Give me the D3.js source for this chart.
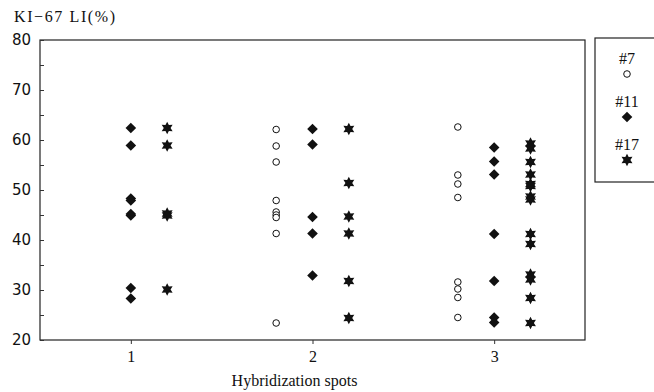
<!DOCTYPE html>
<html>
<head>
<meta charset="utf-8">
<script src="https://cdn.jsdelivr.net/npm/d3@7"></script>
<style>
  body { margin: 0; background: #fff; }
  svg { display: block; }
</style>
</head>
<body>
<div id="chart"></div>
<script>
// KI-67 labelling index per hybridization spot, three clones

const spots = [1, 2, 3];
const seriesNames = ["#7", "#11", "#17"];
const yTicks = [20, 30, 40, 50, 60, 70, 80];

// values per spot (index 0 = spot 1 ...)
const clone7 = [
    [],
    [62.1, 58.8, 55.6, 47.9, 45.6, 45.0, 44.5, 41.3, 23.4],
    [62.6, 53.0, 51.2, 48.5, 31.6, 30.2, 28.5, 24.5]
];
const clone11 = [
    [62.4, 58.9, 48.3, 47.9, 45.2, 44.9, 30.4, 28.3],
    [62.2, 59.1, 44.6, 41.3, 32.9],
    [58.5, 55.7, 53.1, 41.2, 31.8, 24.5, 23.5]
];
const clone17 = [
    [62.4, 58.9, 45.3, 44.9, 30.1],
    [62.2, 51.4, 44.7, 41.3, 31.8, 24.4],
    [59.3, 58.3, 55.6, 53.1, 51.2, 50.8, 48.7, 48.1, 41.2, 39.2, 33.1, 32.1, 28.4, 23.4]
];

const W = 654, H = 392;
const margin = { top: 40, right: 69, bottom: 52, left: 40 };
const width = W - margin.left - margin.right;
const height = H - margin.top - margin.bottom;

const serif = "'Liberation Serif', 'Times New Roman', serif";
const sans = "'DejaVu Sans', Verdana, sans-serif";

const svg = d3.select("#chart")
    .append("svg")
    .attr("width", W)
    .attr("height", H);

const g = svg.append("g")
    .attr("transform", `translate(${margin.left},${margin.top})`);

const x = d3.scaleLinear().domain([0.5, 3.5]).range([0, width]);
const y = d3.scaleLinear().domain([20, 80]).range([height, 0]);

// horizontal offset of each clone within a spot
const offset = { "#7": -0.2, "#11": 0, "#17": 0.2 };

// 6-pointed star and square diamond paths
function starPath(ro, ri) {
    const pts = d3.range(12).map(i => {
        const r = i % 2 === 0 ? ro : ri;
        const a = -Math.PI / 2 + i * Math.PI / 6;
        return [r * Math.cos(a), r * Math.sin(a)];
    });
    return "M" + pts.map(p => p.join(",")).join("L") + "Z";
}
const diamondPath = "M0,-5.3L5.3,0L0,5.3L-5.3,0Z";

// frame
g.append("rect")
    .attr("x", 0).attr("y", 0)
    .attr("width", width).attr("height", height)
    .attr("fill", "none")
    .attr("stroke", "#222")
    .attr("stroke-width", 1.2);

// y axis: ticks inside, every 5
const yAxis = g.append("g")
    .call(d3.axisRight(y).tickValues(d3.range(20, 81, 5)).tickSize(4).tickFormat(""));
yAxis.select(".domain").remove();
yAxis.selectAll("line").attr("stroke", "#333");

g.selectAll("text.ylab")
    .data(yTicks)
    .enter()
    .append("text")
    .attr("class", "ylab")
    .attr("x", -9)
    .attr("y", d => y(d))
    .attr("dy", "0.36em")
    .attr("text-anchor", "end")
    .style("font-family", sans)
    .style("font-size", "15px")
    .attr("fill", "#111")
    .text(d => d);

// x axis
const xAxis = g.append("g")
    .attr("transform", `translate(0,${height})`)
    .call(d3.axisBottom(x).tickValues(spots).tickSize(4).tickPadding(7).tickFormat(d3.format("d")));
xAxis.select(".domain").remove();
xAxis.selectAll("line").attr("stroke", "#333");
xAxis.selectAll("text")
    .style("font-family", serif)
    .style("font-size", "16px")
    .attr("fill", "#111");

// axis titles
svg.append("text")
    .attr("x", 14)
    .attr("y", 22)
    .style("font-family", serif)
    .style("font-size", "16px")
    .style("letter-spacing", "1.6px")
    .attr("fill", "#111")
    .text("KI\u221267 LI(%)");

svg.append("text")
    .attr("x", margin.left + x(2) - 18)
    .attr("y", 386)
    .attr("text-anchor", "middle")
    .style("font-family", serif)
    .style("font-size", "16px")
    .attr("fill", "#111")
    .text("Hybridization spots");

// points
const series = [
    { name: "#7", values: clone7 },
    { name: "#11", values: clone11 },
    { name: "#17", values: clone17 }
];

function drawMarker(sel, name) {
    if (name === "#7") {
        sel.append("circle").attr("r", 3.3)
            .attr("fill", "#fff").attr("stroke", "#111").attr("stroke-width", 1);
    } else if (name === "#11") {
        sel.append("path").attr("d", diamondPath).attr("fill", "#111");
    } else {
        sel.append("path").attr("d", starPath(6.3, 3.4)).attr("fill", "#111");
    }
}

series.forEach(s => {
    const pts = [];
    s.values.forEach((vals, i) => vals.forEach(v => pts.push({ spot: spots[i], v: v })));
    g.selectAll(null)
        .data(pts)
        .enter()
        .append("g")
        .attr("transform", d => `translate(${x(d.spot + offset[s.name])},${y(d.v)})`)
        .each(function() { drawMarker(d3.select(this), s.name); });
});

// legend
const legend = svg.append("g").attr("transform", "translate(595,38)");
legend.append("rect")
    .attr("width", 80).attr("height", 144)
    .attr("fill", "none").attr("stroke", "#222").attr("stroke-width", 1.2);

seriesNames.forEach((name, i) => {
    const cy = 20 + i * 43;
    legend.append("text")
        .attr("x", 32)
        .attr("y", cy)
        .attr("dy", "0.35em")
        .attr("text-anchor", "middle")
        .style("font-family", serif)
        .style("font-size", "16px")
        .attr("fill", "#111")
        .text(name);
    const m = legend.append("g").attr("transform", `translate(32,${cy + 16})`);
    drawMarker(m, name);
});
</script>
</body>
</html>
